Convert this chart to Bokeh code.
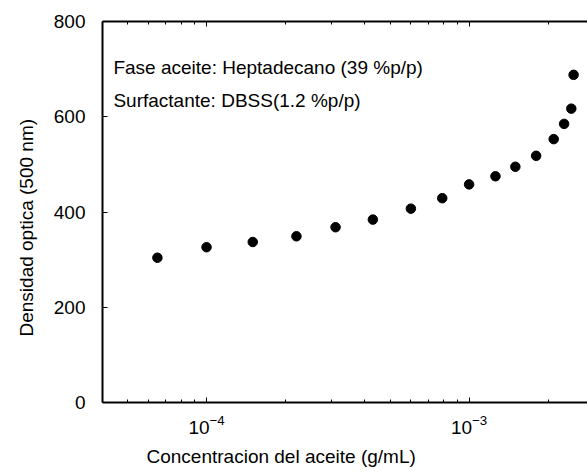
from bokeh.plotting import figure
from bokeh.models import LogAxis, FixedTicker, Label, Range1d, ColumnDataSource, Title
from bokeh.embed import file_html
from bokeh.resources import INLINE

# Data
concentracion = [6.5e-5, 1.0e-4, 1.5e-4, 2.2e-4, 3.1e-4, 4.3e-4, 6.0e-4, 7.9e-4,
                 1.0e-3, 1.26e-3, 1.5e-3, 1.8e-3, 2.1e-3, 2.3e-3, 2.45e-3, 2.5e-3]
densidad = [304, 326, 337, 349, 368, 384, 407, 429,
            458, 475, 495, 518, 553, 585, 617, 688]

x_major = [1e-4, 1e-3, 1e-2]
x_minor = [m * d for d in (1e-5, 1e-4, 1e-3) for m in range(2, 10)]
y_ticks = [0, 200, 400, 600, 800]

title_x = "Concentracion del aceite (g/mL)"
title_y = "Densidad optica (500 nm)"
note1 = "Fase aceite: Heptadecano  (39 %p/p)"
note2 = "Surfactante: DBSS(1.2 %p/p)"

FONT = "Liberation Sans"
FS = "19px"

p = figure(width=587, height=473, x_axis_type="log",
           x_range=Range1d(4.016e-5, 2.824e-3), y_range=Range1d(0, 800),
           output_backend="svg", toolbar_location=None,
           min_border_left=101, min_border_right=0, min_border_top=21,
           min_border_bottom=71)
p.outline_line_color = None
p.grid.visible = False
p.background_fill_color = "white"
p.border_fill_color = "white"

src = ColumnDataSource(dict(x=concentracion, y=densidad))
p.scatter("x", "y", source=src, size=9.5, color="black")

# bottom axis
xa = p.xaxis[0]
xa.ticker = FixedTicker(ticks=x_major, minor_ticks=x_minor)
xa.axis_line_width = 2
xa.major_tick_in = 5
xa.major_tick_out = 0
xa.minor_tick_in = 3
xa.minor_tick_out = 0
xa.major_label_text_font = FONT
xa.major_label_text_font_size = FS
xa.major_label_text_color = "black"
xa.major_label_standoff = 12

# top axis (ticks only)
top = LogAxis(ticker=FixedTicker(ticks=x_major, minor_ticks=x_minor))
top.axis_line_width = 2
top.major_tick_in = 5
top.major_tick_out = 0
top.minor_tick_in = 3
top.minor_tick_out = 0
top.major_label_text_font_size = "1px"
top.major_label_text_color = None
top.major_label_standoff = 0
p.add_layout(top, "above")

# left axis
ya = p.yaxis[0]
ya.ticker = FixedTicker(ticks=y_ticks)
ya.axis_line_width = 2
ya.major_tick_in = 5
ya.major_tick_out = 0
ya.minor_tick_in = 0
ya.minor_tick_out = 0
ya.major_label_text_font = FONT
ya.major_label_text_font_size = FS
ya.major_label_text_color = "black"
ya.major_label_standoff = 17

# axis titles as side-panel titles
p.add_layout(Title(text=title_x, align="left", offset=44, standoff=14,
                   text_font=FONT, text_font_size=FS, text_font_style="normal",
                   text_color="black"), "below")
p.add_layout(Title(text=title_y, align="left", offset=66, standoff=27,
                   text_font=FONT, text_font_size=FS, text_font_style="normal",
                   text_color="black"), "left")

# notes inside the frame
p.add_layout(Label(x=4.42e-5, y=703, text=note1, text_font=FONT,
                   text_font_size=FS, text_align="left", text_baseline="alphabetic",
                   text_color="black"))
p.add_layout(Label(x=4.42e-5, y=634, text=note2, text_font=FONT,
                   text_font_size=FS, text_align="left", text_baseline="alphabetic",
                   text_color="black"))

open("out.html", "w").write(file_html(p, INLINE))
